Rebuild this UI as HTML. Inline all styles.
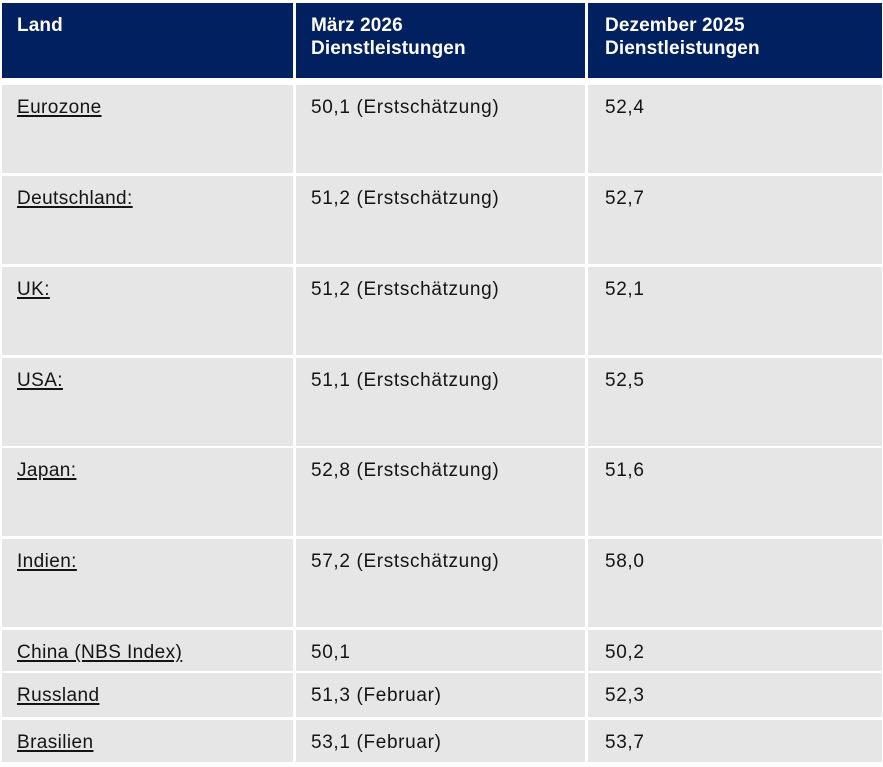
<!DOCTYPE html>
<html>
<head>
<meta charset="utf-8">
<style>
html,body{margin:0;padding:0;background:#fff;}
body{width:883px;height:767px;position:relative;overflow:hidden;font-family:"Liberation Sans",Arial,sans-serif;}
.c{position:absolute;box-sizing:border-box;padding-left:15px;}
.h{background:#002060;color:#fff;font-weight:bold;font-size:19px;line-height:23.5px;padding-top:10.5px;top:3px;height:75px;letter-spacing:0.1px;}
.b{background:#e6e6e6;color:#141414;font-size:19px;line-height:23.5px;padding-top:11px;letter-spacing:0.65px;}
.b u{text-decoration:underline;text-decoration-thickness:1.6px;text-underline-offset:2px;letter-spacing:0.4px;}
.c1{left:2px;width:291px;}
.c2{left:296px;width:289px;}
.c3{left:588px;width:294px;padding-left:17px;}
</style>
</head>
<body>
<div class="c h c1">Land</div>
<div class="c h c2">März 2026<br>Dienstleistungen</div>
<div class="c h c3">Dezember 2025<br>Dienstleistungen</div>

<div class="c b c1" style="top:85px;height:88px;"><u>Eurozone</u></div>
<div class="c b c2" style="top:85px;height:88px;">50,1 (Erstschätzung)</div>
<div class="c b c3" style="top:85px;height:88px;">52,4</div>

<div class="c b c1" style="top:176px;height:88px;"><u>Deutschland:</u></div>
<div class="c b c2" style="top:176px;height:88px;">51,2 (Erstschätzung)</div>
<div class="c b c3" style="top:176px;height:88px;">52,7</div>

<div class="c b c1" style="top:267px;height:88px;"><u>UK:</u></div>
<div class="c b c2" style="top:267px;height:88px;">51,2 (Erstschätzung)</div>
<div class="c b c3" style="top:267px;height:88px;">52,1</div>

<div class="c b c1" style="top:358px;height:88px;"><u>USA:</u></div>
<div class="c b c2" style="top:358px;height:88px;">51,1 (Erstschätzung)</div>
<div class="c b c3" style="top:358px;height:88px;">52,5</div>

<div class="c b c1" style="top:448px;height:88px;"><u>Japan:</u></div>
<div class="c b c2" style="top:448px;height:88px;">52,8 (Erstschätzung)</div>
<div class="c b c3" style="top:448px;height:88px;">51,6</div>

<div class="c b c1" style="top:539px;height:88px;"><u>Indien:</u></div>
<div class="c b c2" style="top:539px;height:88px;">57,2 (Erstschätzung)</div>
<div class="c b c3" style="top:539px;height:88px;">58,0</div>

<div class="c b c1" style="top:630px;height:41px;"><u>China (NBS Index)</u></div>
<div class="c b c2" style="top:630px;height:41px;">50,1</div>
<div class="c b c3" style="top:630px;height:41px;">50,2</div>

<div class="c b c1" style="top:673px;height:44px;"><u>Russland</u></div>
<div class="c b c2" style="top:673px;height:44px;">51,3 (Februar)</div>
<div class="c b c3" style="top:673px;height:44px;">52,3</div>

<div class="c b c1" style="top:720px;height:42px;"><u>Brasilien</u></div>
<div class="c b c2" style="top:720px;height:42px;">53,1 (Februar)</div>
<div class="c b c3" style="top:720px;height:42px;">53,7</div>
</body>
</html>
